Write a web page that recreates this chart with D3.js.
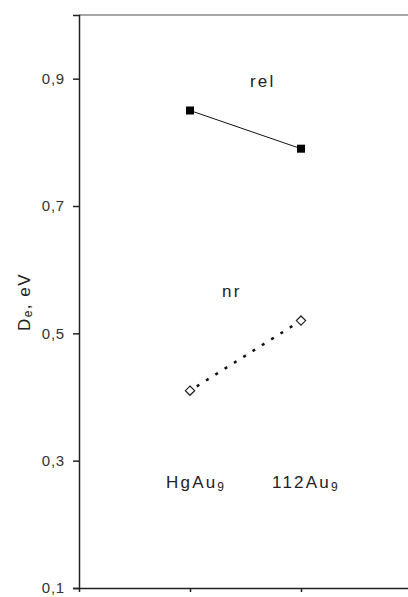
<!DOCTYPE html>
<html>
<head>
<meta charset="utf-8">
<script src="https://cdn.jsdelivr.net/npm/d3@7"></script>
<style>
  body { margin: 0; background: #fff; }
  svg { display: block; font-family: "Liberation Sans", Arial, sans-serif; }
</style>
</head>
<body>
<div id="chart"></div>
<script>
const xValues = [1, 2];
const relValues = [0.85, 0.79];
const nrValues = [0.41, 0.52];
const yTicks = [0.1, 0.3, 0.5, 0.7, 0.9];
const categoryLabels = ['HgAu', '112Au'];

const width = 408;
const height = 597;
const margin = { top: 15, right: -4, bottom: 9, left: 79 };

const svg = d3
  .select('#chart')
  .append('svg')
  .attr('width', width)
  .attr('height', height);

const x = d3
  .scaleLinear()
  .domain([0, 3])
  .range([margin.left, width - margin.right]);

const y = d3
  .scaleLinear()
  .domain([0.1, 1.0])
  .range([height - margin.bottom, margin.top]);

// top frame line
svg
  .append('line')
  .attr('x1', margin.left)
  .attr('x2', width)
  .attr('y1', y(1.0))
  .attr('y2', y(1.0))
  .attr('stroke', '#888')
  .attr('stroke-width', 1.5);

/* Axes
-----------------------------------------------------------------------------*/
const yAxis = svg
  .append('g')
  .attr('transform', `translate(${margin.left},0)`)
  .call(
    d3
      .axisLeft(y)
      .tickValues(yTicks)
      .tickSize(6)
      .tickPadding(8)
      .tickFormat((d) => d3.format('.1f')(d).replace('.', ','))
  );
yAxis.select('.domain').attr('stroke', '#222').attr('stroke-width', 1.5);
yAxis.selectAll('.tick line').attr('stroke', '#222').attr('stroke-width', 1.5);
yAxis
  .selectAll('.tick text')
  .attr('font-size', 15)
  .attr('letter-spacing', 0.8)
  .attr('fill', '#333')
  .attr('font-family', '"Liberation Sans", Arial, sans-serif');

const xAxis = svg
  .append('g')
  .attr('transform', `translate(0,${y(0.1)})`)
  .call(d3.axisBottom(x).tickValues(xValues).tickSize(4).tickFormat(''));
xAxis.select('.domain').attr('stroke', '#222').attr('stroke-width', 1.5);
xAxis.selectAll('.tick line').attr('stroke', '#222').attr('stroke-width', 1.5);

svg
  .append('text')
  .attr('transform', `translate(30,302) rotate(-90)`)
  .attr('text-anchor', 'middle')
  .attr('font-size', 17)
  .attr('letter-spacing', 1.5)
  .attr('fill', '#222')
  .call((t) => {
    t.append('tspan').text('D');
    t.append('tspan').attr('font-size', 12).attr('dy', 2).text('e');
    t.append('tspan').attr('dy', -2).text(', eV');
  });

/* Series
-----------------------------------------------------------------------------*/
const line = d3
  .line()
  .x((d, i) => x(xValues[i]))
  .y((d) => y(d));

svg
  .append('path')
  .attr('d', line(relValues))
  .attr('fill', 'none')
  .attr('stroke', '#111')
  .attr('stroke-width', 1);

svg
  .append('path')
  .attr('d', line(nrValues))
  .attr('fill', 'none')
  .attr('stroke', '#111')
  .attr('stroke-width', 2.5)
  .attr('stroke-dasharray', '3 8')
  .attr('stroke-dashoffset', -8);

svg
  .selectAll('rect.rel')
  .data(relValues)
  .join('rect')
  .attr('class', 'rel')
  .attr('x', (d, i) => x(xValues[i]) - 4)
  .attr('y', (d) => y(d) - 4)
  .attr('width', 8)
  .attr('height', 8)
  .attr('fill', '#000');

svg
  .selectAll('path.nr')
  .data(nrValues)
  .join('path')
  .attr('class', 'nr')
  .attr('d', d3.symbol(d3.symbolDiamond2, 55))
  .attr('transform', (d, i) => `translate(${x(xValues[i])},${y(d)})`)
  .attr('fill', '#fff')
  .attr('stroke', '#222')
  .attr('stroke-width', 1.2);

/* Labels
-----------------------------------------------------------------------------*/
const labels = svg
  .append('g')
  .attr('font-size', 17)
  .attr('letter-spacing', 2.2)
  .attr('fill', '#222');

labels.append('text').attr('x', 250).attr('y', 87).text('rel');
labels.append('text').attr('x', 222).attr('y', 297).text('nr');

categoryLabels.forEach((label, i) => {
  const t = labels
    .append('text')
    .attr('x', i === 0 ? 166 : 272)
    .attr('y', 488);
  t.append('tspan').text(label);
  t.append('tspan').attr('font-size', 12).attr('dy', 3).text('9');
});
</script>
</body>
</html>
